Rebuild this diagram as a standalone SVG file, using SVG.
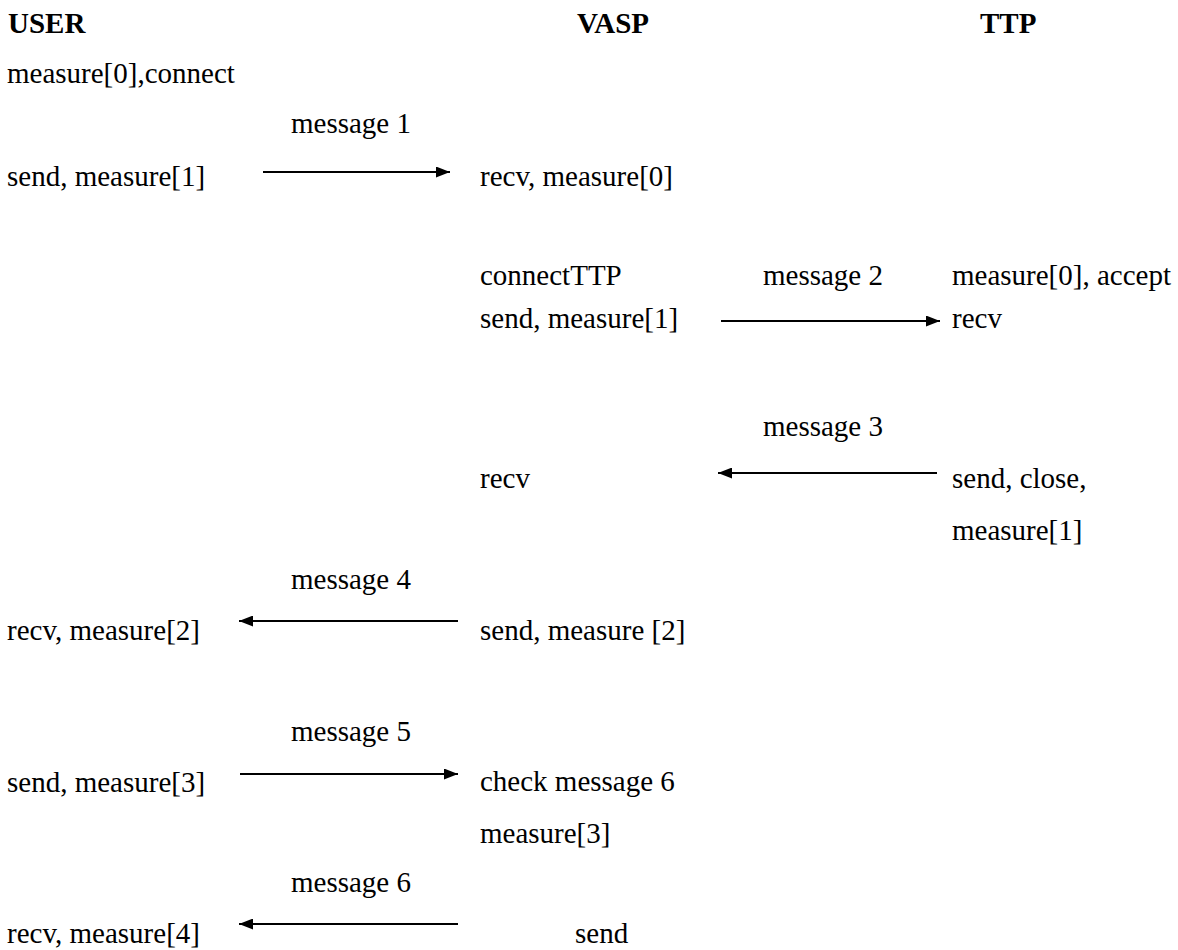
<svg xmlns="http://www.w3.org/2000/svg" width="1178" height="950" viewBox="0 0 1178 950" font-family="'Liberation Serif', Tinos, 'Times New Roman', 'DejaVu Serif', serif">
  <style>
    text { font-family: "Liberation Serif", Tinos, "Times New Roman", "DejaVu Serif", serif; font-size: 29px; fill: #000; }
    .head { font-weight: bold; }
    .msg { stroke: #000; stroke-width: 1.8; fill: none; }
  </style>
  <defs>
    <marker id="arrow" viewBox="0 0 14 11" refX="14" refY="5.5" markerWidth="14" markerHeight="11" markerUnits="userSpaceOnUse" orient="auto">
      <path d="M0,0 L14,5.5 L0,11 Z" fill="#000"/>
    </marker>
  </defs>
  <rect width="1178" height="950" fill="#fff"/>

  <!-- participant headings -->
  <g id="user-head"><text class="head" x="8" y="33">USER</text></g>
  <g id="vasp-head"><text class="head" x="577" y="33">VASP</text></g>
  <g id="ttp-head"><text class="head" x="980" y="33">TTP</text></g>

  <!-- USER column steps -->
  <g id="user-connect"><text x="7" y="83">measure[0],connect</text></g>
  <g id="user-send1"><text x="7" y="186">send, measure[1]</text></g>
  <g id="user-recv2"><text x="7" y="640">recv, measure[2]</text></g>
  <g id="user-send3"><text x="7" y="792">send, measure[3]</text></g>
  <g id="user-recv4"><text x="7" y="943">recv, measure[4]</text></g>

  <!-- VASP column steps -->
  <g id="vasp-recv0"><text x="480" y="186">recv, measure[0]</text></g>
  <g id="vasp-connect">
    <text x="480" y="285">connectTTP</text>
    <text x="480" y="328">send, measure[1]</text>
  </g>
  <g id="vasp-recv"><text x="480" y="488">recv</text></g>
  <g id="vasp-send2"><text x="480" y="640">send, measure [2]</text></g>
  <g id="vasp-check">
    <text x="480" y="791">check message 6</text>
    <text x="480" y="843">measure[3]</text>
  </g>
  <g id="vasp-send"><text x="575" y="943">send</text></g>

  <!-- TTP column steps -->
  <g id="ttp-accept">
    <text x="952" y="285">measure[0], accept</text>
    <text x="952" y="328">recv</text>
  </g>
  <g id="ttp-close">
    <text x="952" y="488">send, close,</text>
    <text x="952" y="540">measure[1]</text>
  </g>

  <!-- messages -->
  <g id="connectors">
    <line class="msg" x1="263" y1="172" x2="450" y2="172" marker-end="url(#arrow)"/>
    <text x="291" y="133">message 1</text>

    <line class="msg" x1="721" y1="321" x2="940" y2="321" marker-end="url(#arrow)"/>
    <text x="763" y="285">message 2</text>

    <line class="msg" x1="937" y1="473" x2="718" y2="473" marker-end="url(#arrow)"/>
    <text x="763" y="436">message 3</text>

    <line class="msg" x1="458" y1="621" x2="239" y2="621" marker-end="url(#arrow)"/>
    <text x="291" y="589">message 4</text>

    <line class="msg" x1="240" y1="774" x2="458" y2="774" marker-end="url(#arrow)"/>
    <text x="291" y="741">message 5</text>

    <line class="msg" x1="458" y1="924" x2="239" y2="924" marker-end="url(#arrow)"/>
    <text x="291" y="892">message 6</text>
  </g>
</svg>
